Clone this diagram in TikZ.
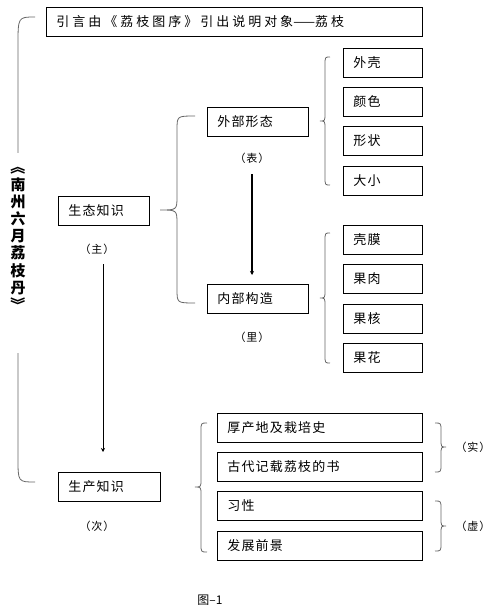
\documentclass[tikz,border=0pt]{standalone}
\usepackage{fontspec}
\setmainfont{Noto Sans CJK SC}[LetterSpace=9]
\newfontfamily\plaincjk{Noto Sans CJK SC}
\newfontfamily\widecjk{Noto Sans CJK SC}[LetterSpace=23]
\usetikzlibrary{arrows.meta}

% left/right curly brace: end x, spine x, tip x, top y, mid y, bottom y, radius
\newcommand{\curly}[7]{%
\draw[curl] (#1,#4) .. controls (#2,#4) .. (#2,{#4+#7}) -- (#2,{#5-#7})
  .. controls (#2,#5) .. (#3,#5) .. controls (#2,#5) .. (#2,{#5+#7})
  -- (#2,{#6-#7}) .. controls (#2,#6) .. (#1,#6);}

\tikzset{
  box/.style={draw,line width=.8pt,anchor=north west,minimum height=29pt,
    inner xsep=10pt,inner ysep=0pt,align=left,font=\fontsize{13}{15}\selectfont},
  tag/.style={inner sep=1pt,font=\fontsize{11}{13}\selectfont},
  curl/.style={black!60,line width=.8pt},
  fatarrow/.style={line width=1.6pt,-{Stealth[length=4pt,width=4pt]}},
  thinarrow/.style={line width=.8pt,-{Stealth[length=4pt,width=4pt]}}
}

\begin{document}
\begin{tikzpicture}[x=1pt,y=-1pt]
\path[use as bounding box] (0,0) rectangle (495,609);

\node[box,text width=356pt] (intro) at (46,7) {\widecjk 引言由《荔枝图序》引出说明对象{\plaincjk ——}荔枝};

\node[box,text width=71pt] (shengtai) at (58,196) {生态知识};
\node[tag] (zhu) at (97,249) {（主）};
\node[box,text width=82pt] (shengchan) at (58,472) {生产知识};
\node[tag] (ci) at (97,526) {（次）};

\node[box,text width=81pt] (waibu) at (207,107) {外部形态};
\node[tag] (biao) at (252,158) {（表）};
\node[box,text width=81pt] (neibu) at (207,284) {内部构造};
\node[tag] (li) at (252,337) {（里）};

\node[box,text width=59pt] (waike) at (343,48) {外壳};
\node[box,text width=59pt] (yanse) at (343,87) {颜色};
\node[box,text width=59pt] (xingzhuang) at (343,126) {形状};
\node[box,text width=59pt] (daxiao) at (343,166) {大小};

\node[box,text width=59pt] (kemo) at (343,225) {壳膜};
\node[box,text width=59pt] (guorou) at (343,264) {果肉};
\node[box,text width=59pt] (guohe) at (343,304) {果核};
\node[box,text width=59pt] (guohua) at (343,343) {果花};

\node[box,text width=185pt] (chandi) at (217,413) {厚产地及栽培史};
\node[box,text width=185pt] (gudai) at (217,452) {古代记载荔枝的书};
\node[box,text width=185pt] (xixing) at (217,491) {习性};
\node[box,text width=185pt] (fazhan) at (217,531) {发展前景};
\node[tag] (shi) at (473,447) {（实）};
\node[tag] (xu) at (473,526) {（虚）};

% title on the big brace
\node[align=center,inner sep=0pt,font=\bfseries\fontsize{15}{17.2}\selectfont] (title) at (18,236)
  {\rotatebox[origin=c]{-90}{《}\\南\\州\\六\\月\\荔\\枝\\丹\\\rotatebox[origin=c]{-90}{》}};
\draw[curl] (35,17) .. controls (18,17) .. (18,45) -- (18,153);
\draw[curl] (18,353) -- (18,458) .. controls (18,482) .. (35,482);

\curly{195}{177}{160}{116}{210}{303}{14}
\curly{330}{325}{320}{57}{121}{185}{8}
\curly{330}{325}{320}{233}{298}{363}{8}
\curly{207}{201}{195}{423}{487}{552}{8}
\curly{435}{441}{446}{423}{447}{472}{8}
\curly{435}{441}{446}{501}{526}{551}{8}

\draw[fatarrow,shorten <=10pt,shorten >=9pt] (biao.south) -- (biao.south |- neibu.north);
\draw[thinarrow,shorten <=9pt,shorten >=20pt] ([xshift=6pt]zhu.south) -- ([xshift=6pt]zhu.south |- shengchan.north);

\node[font=\fontsize{12}{14}\selectfont] (caption) at (210,600) {图{\plaincjk –}1};
\end{tikzpicture}
\end{document}
